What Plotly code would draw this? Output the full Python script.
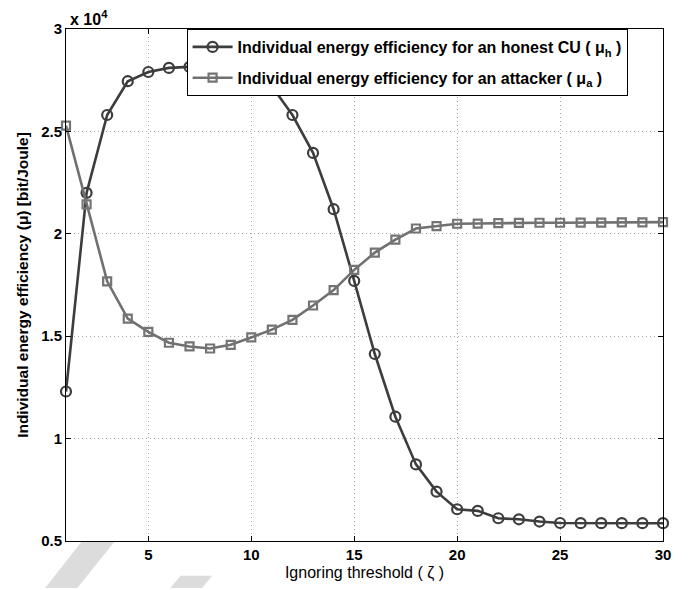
import plotly.graph_objects as go

# Ignoring threshold (zeta)
zeta = list(range(1, 31))
# Individual energy efficiency (x 10^4 bit/Joule)
mu_honest = [1.23, 2.20, 2.58, 2.745, 2.79, 2.81, 2.815, 2.815, 2.80, 2.77,
             2.72, 2.58, 2.395, 2.12, 1.77, 1.413, 1.107, 0.874, 0.741, 0.655,
             0.647, 0.611, 0.606, 0.595, 0.588, 0.587, 0.587, 0.587, 0.587, 0.587]
mu_attacker = [2.528, 2.144, 1.768, 1.586, 1.521, 1.468, 1.450, 1.440, 1.458, 1.494,
               1.532, 1.580, 1.650, 1.725, 1.824, 1.908, 1.972, 2.026, 2.037, 2.049,
               2.050, 2.052, 2.053, 2.054, 2.054, 2.055, 2.055, 2.056, 2.056, 2.057]

x_ticks = [5, 10, 15, 20, 25, 30]
x_ticklabels = ["5", "10", "15", "20", "25", "30"]
y_ticks = [0.5, 1, 1.5, 2, 2.5, 3]
y_ticklabels = ["0.5", "1", "1.5", "2", "2.5", "3"]

name_h = "Individual energy efficiency for an honest CU ( \u03bc<sub>h</sub> )"
name_a = "Individual energy efficiency for an attacker ( \u03bc<sub>a</sub> )"

FONT = "Liberation Sans, Arial, Helvetica, sans-serif"

fig = go.Figure()
fig.add_trace(go.Scatter(
    x=zeta, y=mu_honest, mode="lines+markers", name=name_h,
    legendgroup="h",
    line=dict(color="#3d3d3d", width=2.6),
    marker=dict(symbol="circle-open", size=10, color="#3d3d3d", line=dict(width=2.2)),
    cliponaxis=False,
))
fig.add_trace(go.Scatter(
    x=zeta, y=mu_attacker, mode="lines+markers", name=name_a,
    legendgroup="a",
    line=dict(color="#707070", width=2.6),
    marker=dict(symbol="square-open", size=8, color="#747474", line=dict(width=2.2)),
    cliponaxis=False,
))

axis_common = dict(
    showline=True, linecolor="black", linewidth=1, mirror="allticks",
    ticks="inside", ticklen=5, tickwidth=1, tickcolor="black",
    showgrid=True, gridcolor="#a8a8a8", gridwidth=1, griddash="1px,3px",
    zeroline=False,
    tickfont=dict(family=FONT, size=15, color="black"),
)

fig.update_xaxes(
    range=[1, 30], tickvals=x_ticks,
    ticktext=["<b>%s</b>" % t for t in x_ticklabels], **axis_common,
    title=dict(text="Ignoring threshold ( \u03b6 )", standoff=4,
               font=dict(family=FONT, size=16, color="black")),
)
fig.update_yaxes(
    range=[0.5, 3], tickvals=y_ticks,
    ticktext=["<b>%s</b>" % t for t in y_ticklabels], **axis_common,
    title=dict(text="<b>Individual energy efficiency (\u03bc) [bit/Joule]</b>", standoff=8,
               font=dict(family=FONT, size=15.5, color="black")),
)

fig.add_annotation(
    x=0, y=1, xref="paper", yref="paper", xanchor="left", yanchor="bottom",
    xshift=2, yshift=-1,
    text="<b>x 10<sup>4</sup></b>", showarrow=False,
    font=dict(family=FONT, size=16, color="black"),
)

# faint watermark strokes below the axes
fig.add_shape(type="path", xref="paper", yref="paper",
              path="M -0.035 -0.092 L 0.019 -0.092 L 0.082 0.0 L 0.027 0.0 Z",
              fillcolor="#dcdcdc", line=dict(width=0), layer="below")
fig.add_shape(type="path", xref="paper", yref="paper",
              path="M 0.175 -0.092 L 0.228 -0.092 L 0.245 -0.068 L 0.192 -0.068 Z",
              fillcolor="#dcdcdc", line=dict(width=0), layer="below")

fig.update_layout(
    width=693, height=590,
    margin=dict(l=66, r=30, t=29, b=47),
    paper_bgcolor="white", plot_bgcolor="white",
    font=dict(family=FONT, color="black"),
    showlegend=True,
    legend=dict(
        x=0.202, y=1, xanchor="left", yanchor="top",
        bgcolor="white", bordercolor="black", borderwidth=1,
        font=dict(family=FONT, size=16, color="black", weight="bold"),
        tracegroupgap=7, itemwidth=40,
    ),
)

fig.write_html("out.html")
